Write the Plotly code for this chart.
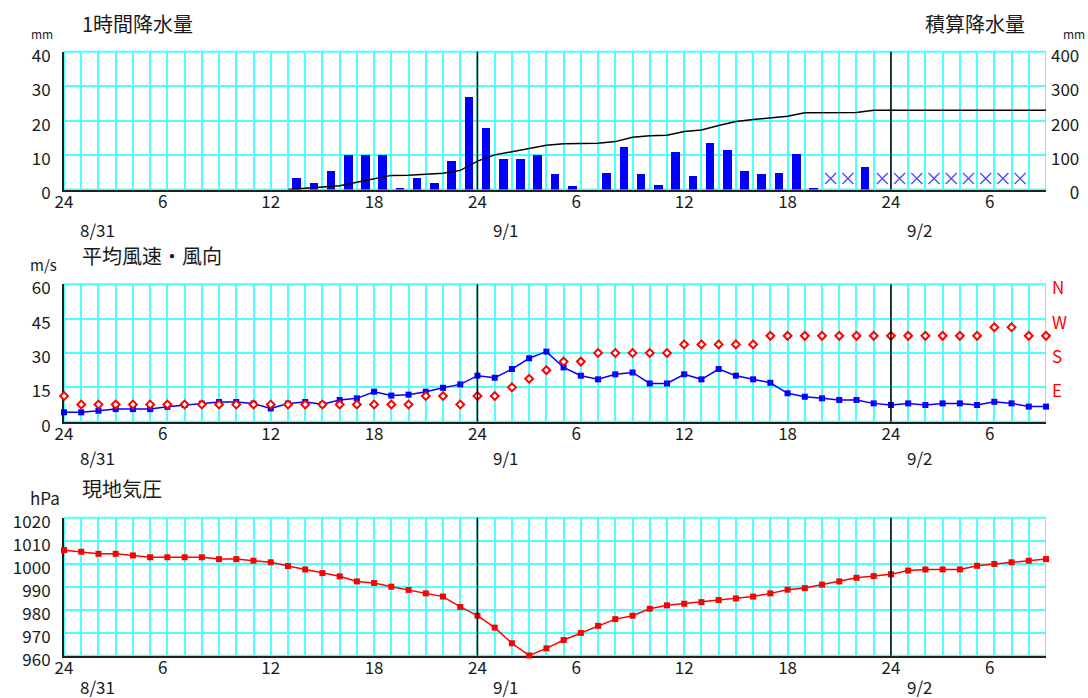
import plotly.graph_objects as go

W, H = 1088, 698

# ---------------- data ----------------
hours = list(range(0, 58))  # 0 = 8/31 00:00 ... 57 = 9/2 09:00
hour_tick_vals = [0, 6, 12, 18, 24, 30, 36, 42, 48, 54]
hour_tick_text = ["24", "6\u2007", "12", "18", "24", "6\u2007", "12", "18", "24", "6\u2007"]
date_labels = ["8/31", "9/1", "9/2"]
date_hours = [0, 24, 48]

# 1-hour precipitation (mm), by hour-ending
rain_hours = [14, 15, 16, 17, 18, 19, 20, 21, 22, 23, 24, 25, 26, 27, 28, 29, 30, 31,
              32, 33, 34, 35, 36, 37, 38, 39, 40, 41, 42, 43, 44, 47]
rain_mm = [3.5, 2.0, 5.5, 10.0, 10.0, 10.0, 0.5, 3.5, 2.0, 8.5, 27.0, 18.0, 9.0, 9.0, 10.0, 4.5, 1.0, 0.0,
           5.0, 12.5, 4.5, 1.5, 11.0, 4.0, 13.5, 11.5, 5.5, 4.5, 5.0, 10.5, 0.5, 6.5]
missing_hours = [45, 46, 48, 49, 50, 51, 52, 53, 54, 55, 56]

# accumulated precipitation (mm)
cum_hours = list(range(13, 58))
cum_mm = [0, 3.5, 5.5, 11, 21, 31, 41, 41.5, 45, 47, 55.5, 82.5, 100.5, 109.5, 118.5, 128.5, 133, 134,
          134, 139, 151.5, 156, 157.5, 168.5, 172.5, 186, 197.5, 203, 207.5, 212.5, 223, 223.5, 223.5,
          223.5, 230, 230, 230, 230, 230, 230, 230, 230, 230, 230, 230]
cum_tick_vals = [0, 100, 200, 300, 400]
cum_tick_text = ["\u2007\u20070", "100", "200", "300", "400"]

# mean wind speed (m/s)
wind_speed = [4.1, 4.1, 4.8, 5.5, 5.5, 5.5, 6.5, 7.3, 7.9, 8.6,
              8.6, 7.9, 5.8, 7.9, 8.6, 7.6, 9.5, 10.2, 13.1, 11.4,
              11.8, 13.1, 14.8, 16.3, 20.1, 19.2, 23.0, 27.7, 30.6, 23.7,
              20.1, 18.5, 20.7, 21.5, 16.7, 16.7, 20.7, 18.5, 23.0, 20.1,
              18.5, 17.0, 12.4, 10.9, 10.2, 9.5, 9.5, 8.0, 7.3, 8.0,
              7.3, 8.0, 8.0, 7.3, 8.7, 8.0, 6.6, 6.6]

# wind direction (16 points)
wind_dir = ["ENE", "NE", "NE", "NE", "NE", "NE", "NE", "NE", "NE", "NE",
            "NE", "NE", "NE", "NE", "NE", "NE", "NE", "NE", "NE", "NE",
            "NE", "ENE", "ENE", "NE", "ENE", "ENE", "E", "ESE", "SE", "SSE",
            "SSE", "S", "S", "S", "S", "S", "SSW", "SSW", "SSW", "SSW",
            "SSW", "SW", "SW", "SW", "SW", "SW", "SW", "SW", "SW", "SW",
            "SW", "SW", "SW", "SW", "WSW", "WSW", "SW", "SW"]
compass16 = ["N", "NNE", "NE", "ENE", "E", "ESE", "SE", "SSE",
             "S", "SSW", "SW", "WSW", "W", "WNW", "NW", "NNW"]
dir_tick_vals = [15, 30, 45, 60]
dir_tick_text = ["E", "S", "W", "N"]

# station pressure (hPa)
pressure = [1005.9, 1005.2, 1004.3, 1004.3, 1003.6, 1002.8, 1002.8, 1002.8, 1002.8, 1002.0,
            1002.0, 1001.3, 1000.6, 999.0, 997.5, 995.9, 994.5, 992.3, 991.6, 990.0,
            988.6, 987.1, 985.7, 981.2, 977.4, 972.2, 965.4, 960.1, 963.2, 966.8,
            969.9, 973.0, 975.9, 977.4, 980.4, 981.9, 982.6, 983.3, 984.2, 984.9,
            985.7, 987.1, 988.7, 989.4, 990.9, 992.3, 993.9, 994.6, 995.4, 997.0,
            997.5, 997.5, 997.5, 999.1, 999.9, 1000.6, 1001.3, 1002.0]

# ---------------- derived for plotting ----------------
dir_value = []
for d in wind_dir:
    idx = compass16.index(d)
    dir_value.append(60 if idx == 0 else idx * 3.75)
bar_x = [h - 0.5 for h in rain_hours]
miss_x = [h - 0.5 for h in missing_hours]


def px(x):
    return x / W


def py(y):
    return 1 - y / H


FONT = "Noto Sans CJK JP, DejaVu Sans, sans-serif"
CYAN = "#4dffff"
TXT = "#1a1a1a"
XR = [0, 57]

fig = go.Figure()

# panel 1
fig.add_trace(go.Bar(x=bar_x, y=rain_mm, width=0.5, marker=dict(color="#0000ff", line=dict(width=0)),
                     xaxis="x", yaxis="y", showlegend=False))
fig.add_trace(go.Scatter(x=miss_x, y=[3.2] * len(miss_x), mode="markers",
                         marker=dict(symbol="x-thin-open", size=11, color="#4848ff",
                                     line=dict(color="#4848ff", width=1.3)),
                         xaxis="x", yaxis="y", showlegend=False))
fig.add_trace(go.Scatter(x=cum_hours, y=cum_mm, mode="lines", line=dict(color="black", width=1.5),
                         xaxis="x", yaxis="y2", showlegend=False))

# panel 2
fig.add_trace(go.Scatter(x=hours, y=wind_speed, mode="lines+markers",
                         line=dict(color="#0000ff", width=1.5),
                         marker=dict(symbol="square", size=6, color="#0000ff"),
                         xaxis="x2", yaxis="y3", showlegend=False, cliponaxis=False))
fig.add_trace(go.Scatter(x=hours, y=dir_value, mode="markers",
                         marker=dict(symbol="diamond", size=6, color="white",
                                     line=dict(color="#ff0000", width=2)),
                         xaxis="x2", yaxis="y4", showlegend=False, cliponaxis=False))

# panel 3
fig.add_trace(go.Scatter(x=hours, y=pressure, mode="lines+markers",
                         line=dict(color="#ff0000", width=1.5),
                         marker=dict(symbol="square", size=6, color="#ff0000"),
                         xaxis="x3", yaxis="y5", showlegend=False, cliponaxis=False))

xdom = [px(64), px(1046)]
panels = [
    ("x", "y", [py(189.5), py(51.7)]),
    ("x2", "y3", [py(421.7), py(284.3)]),
    ("x3", "y5", [py(655.7), py(517.7)]),
]

xaxis_common = dict(range=XR, tickmode="array", tickvals=hours,
                    ticktext=[hour_tick_text[hour_tick_vals.index(h)] if h in hour_tick_vals else "" for h in hours],
                    showgrid=True, gridcolor=CYAN, gridwidth=1.5, zeroline=False, ticks="",
                    showline=True, linecolor="#222", linewidth=2, layer="below traces",
                    tickfont=dict(family=FONT, size=17, color=TXT), ticklabelstandoff=-4,
                    automargin=False, fixedrange=True)
yaxis_common = dict(showgrid=True, gridcolor=CYAN, gridwidth=1.5, zeroline=False, ticks="",
                    showline=True, linecolor="#222", linewidth=2, layer="below traces",
                    tickfont=dict(family=FONT, size=17, color=TXT),
                    ticklabelstandoff=8, ticklabelshift=4, automargin=False, fixedrange=True)

fig.update_layout(
    width=W, height=H, margin=dict(l=0, r=0, t=0, b=0, pad=0),
    paper_bgcolor="white", plot_bgcolor="white", template="none",
    bargap=0, showlegend=False,
    xaxis=dict(domain=xdom, anchor="y", **xaxis_common),
    xaxis2=dict(domain=xdom, anchor="y3", **xaxis_common),
    xaxis3=dict(domain=xdom, anchor="y5", **xaxis_common),
    yaxis=dict(domain=panels[0][2], anchor="x", range=[0, 40], dtick=10, tick0=0, **yaxis_common),
    yaxis2=dict(overlaying="y", anchor="x", side="right", range=[0, 400], tickmode="array",
                tickvals=cum_tick_vals, ticktext=cum_tick_text,
                showgrid=False, zeroline=False, ticks="", showline=False,
                tickfont=dict(family=FONT, size=17, color=TXT), ticklabelstandoff=4,
                ticklabelshift=4, automargin=False, fixedrange=True),
    yaxis3=dict(domain=panels[1][2], anchor="x2", range=[0, 60], dtick=15, tick0=0, **yaxis_common),
    yaxis4=dict(overlaying="y3", anchor="x2", side="right", range=[0, 60], tickmode="array",
                tickvals=dir_tick_vals, ticktext=dir_tick_text, showgrid=False, zeroline=False,
                ticks="", showline=False, tickfont=dict(family=FONT, size=17, color="#ff0000"),
                ticklabelstandoff=5, ticklabelshift=4, automargin=False, fixedrange=True),
    yaxis5=dict(domain=panels[2][2], anchor="x3", range=[960, 1020], dtick=10, tick0=960, **yaxis_common),
)

shapes = []
for xr, yr, _ in panels:
    shapes.append(dict(type="rect", xref=xr, yref=yr + " domain", x0=0, x1=57, y0=0, y1=1,
                       line=dict(color=CYAN, width=2), layer="below"))
    for dh in date_hours[1:]:
        shapes.append(dict(type="line", xref=xr, yref=yr + " domain", x0=dh, x1=dh, y0=0, y1=1,
                           line=dict(color="black", width=1.5), layer="above"))
fig.update_layout(shapes=shapes)

ann = []


def text(s, x, y, size, anchor="left", color=TXT):
    ann.append(dict(text=s, x=px(x), y=py(y), xref="paper", yref="paper", xanchor=anchor,
                    yanchor="middle", showarrow=False, font=dict(family=FONT, size=size, color=color)))


text("1時間降水量", 80, 23, 20)
text("積算降水量", 1027, 23, 20, anchor="right")
text("mm", 29, 33, 12)
text("mm", 1061, 33, 12)
text("平均風速・風向", 80, 255, 20)
text("m/s", 28, 264, 15)
text("現地気圧", 80, 488, 20)
text("hPa", 28, 497, 17)

for xr, date_y in zip(["x", "x2", "x3"], [229, 457, 686]):
    for lbl, dh in zip(date_labels, date_hours):
        ann.append(dict(text=lbl, x=dh + 0.8, y=py(date_y), xref=xr, yref="paper", xanchor="left",
                        yanchor="middle", showarrow=False, font=dict(family=FONT, size=17, color=TXT)))

fig.update_layout(annotations=ann)

fig.write_html("out.html", config={"displayModeBar": False},
               post_script="document.body.style.margin='0';document.body.style.overflow='hidden';")
